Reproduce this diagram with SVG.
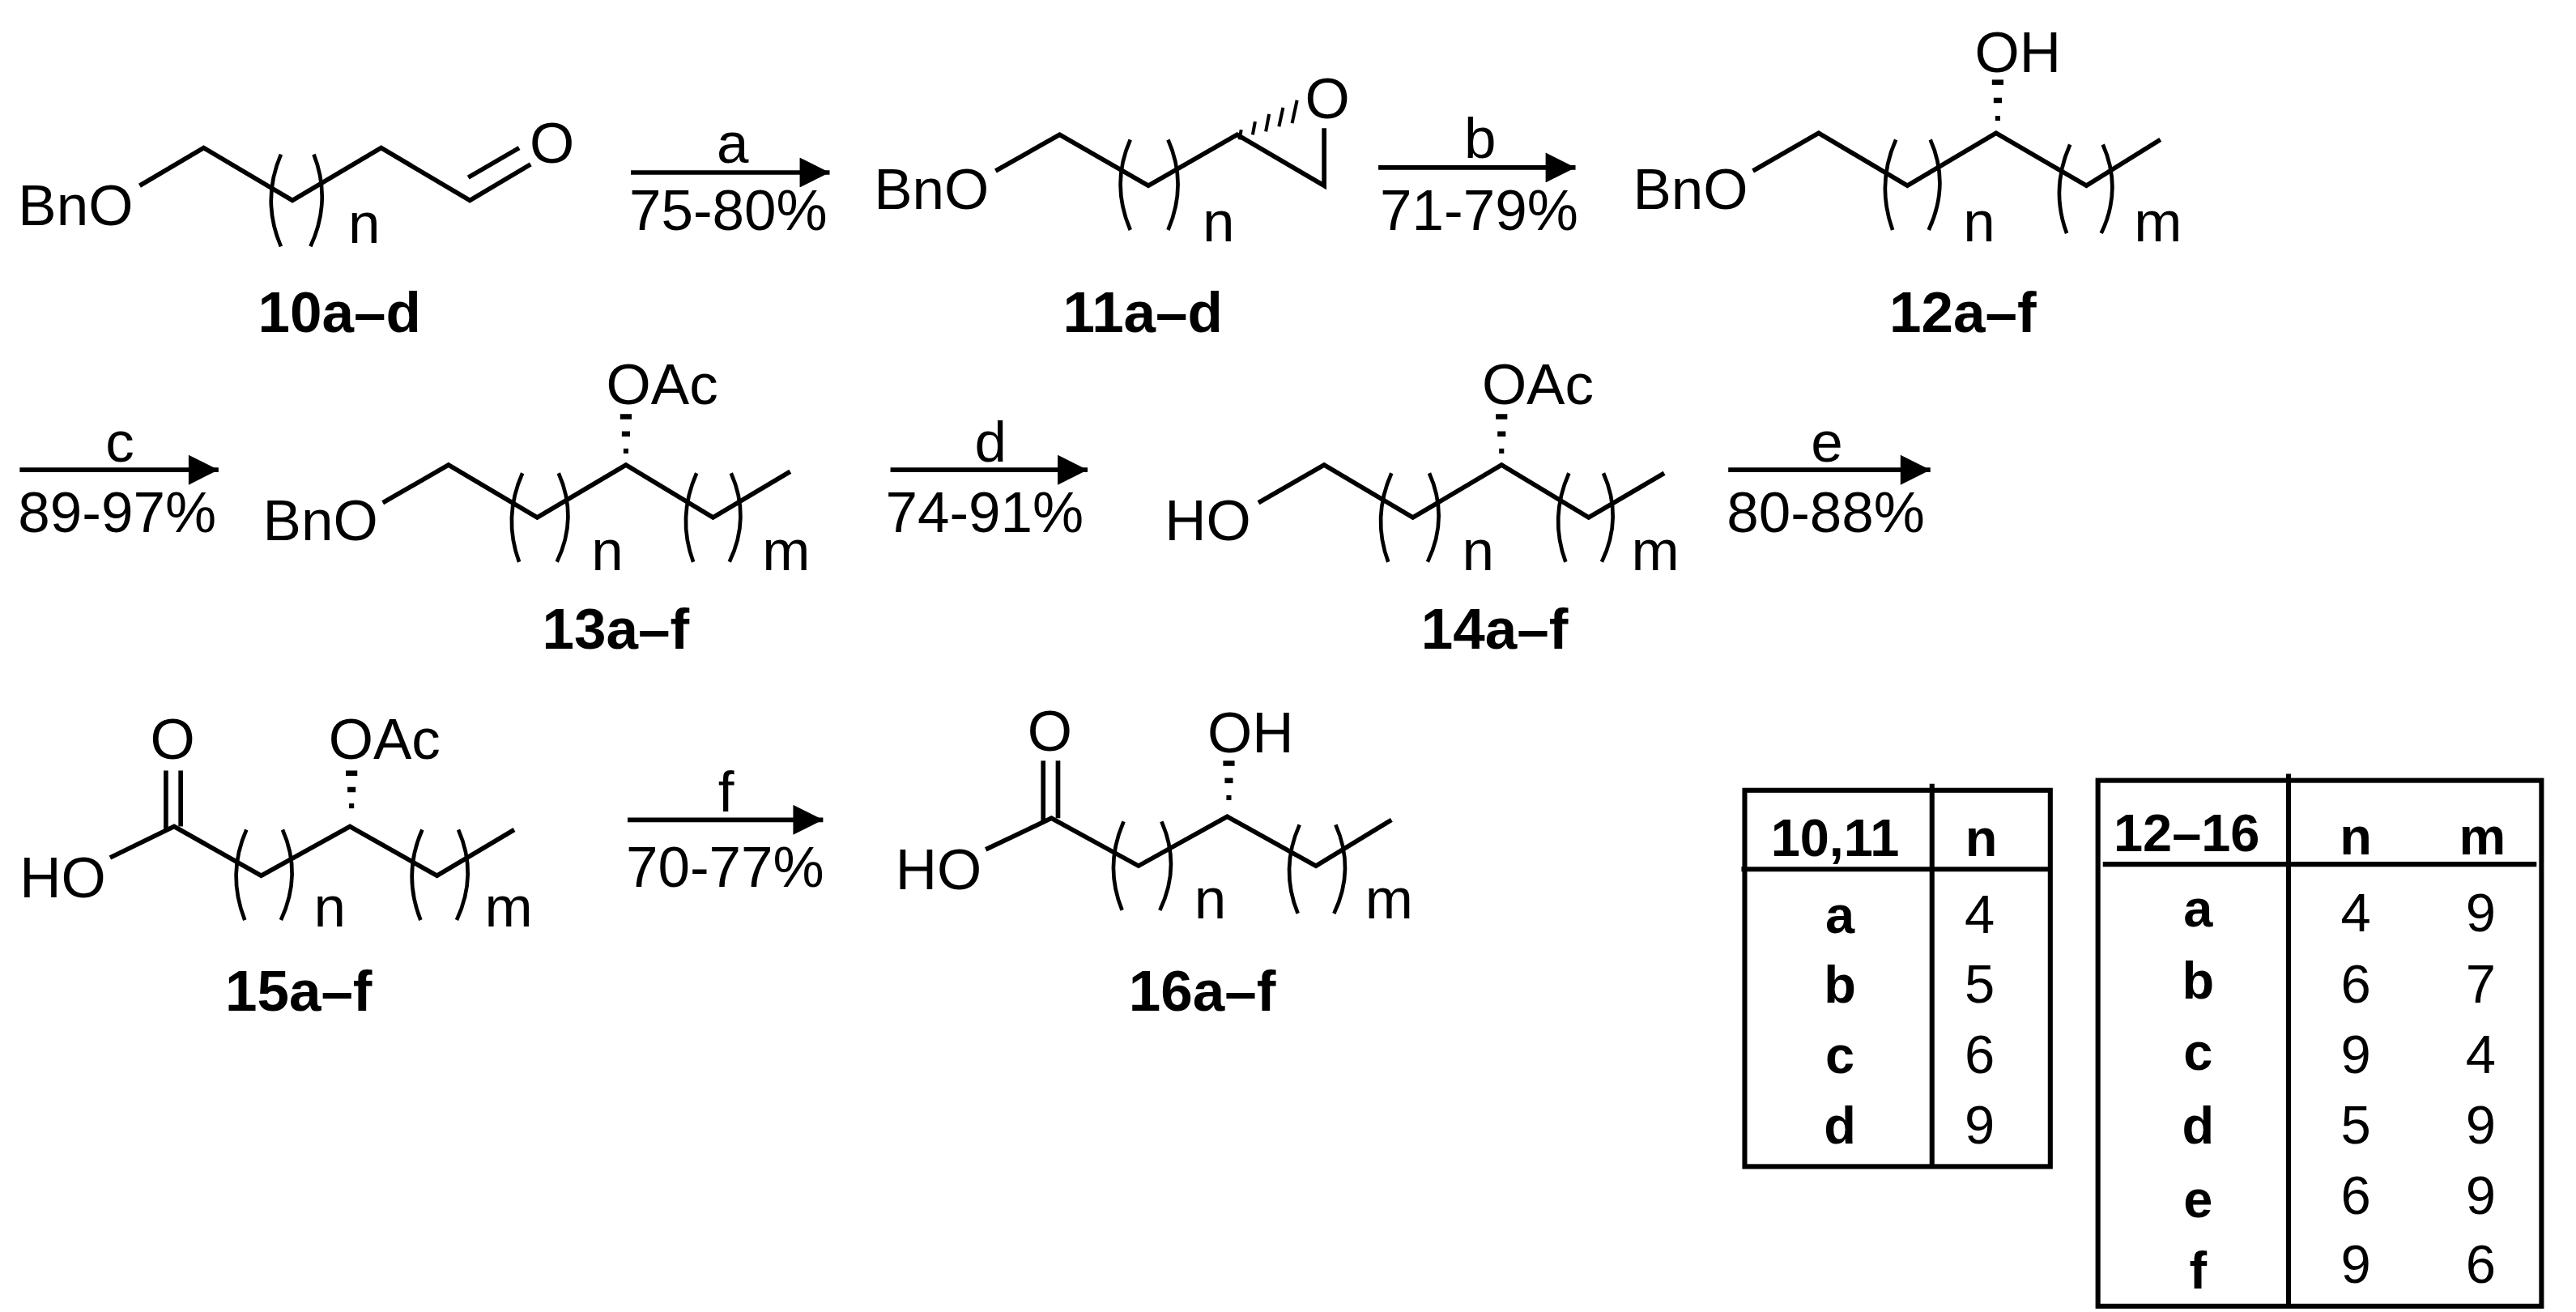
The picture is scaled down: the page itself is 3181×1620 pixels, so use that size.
<svg xmlns="http://www.w3.org/2000/svg" width="3181" height="1620" viewBox="0 0 3181 1620">
<style>
.b{fill:none;stroke:#000;stroke-width:2.8;stroke-linejoin:miter;stroke-linecap:butt}
.p{fill:none;stroke:#000;stroke-width:2.3}
.t{font-family:"Liberation Sans",Arial,sans-serif;font-size:35px;fill:#000}
.s{font-family:"Liberation Sans",Arial,sans-serif;font-size:35px;fill:#000}
.l{font-family:"Liberation Sans",Arial,sans-serif;font-size:35px;font-weight:bold;fill:#000}
.tb{font-family:"Liberation Sans",Arial,sans-serif;font-size:32px;font-weight:bold;fill:#000;text-anchor:middle}
.tn{font-family:"Liberation Sans",Arial,sans-serif;font-size:33px;fill:#000;text-anchor:middle}
.g{fill:none;stroke:#000;stroke-width:3}
.m{text-anchor:middle}
</style>
<defs>
<marker id="ah" viewBox="0 0 10 10" refX="10" refY="5" markerWidth="7" markerHeight="6.5" markerUnits="strokeWidth" orient="auto"><path d="M0,0 L10,5 L0,10 z" fill="#000"/></marker>
</defs>
<rect width="3181" height="1620" fill="#fff"/>
<g transform="scale(2.0287)">
<g id="connectors">
<line class="b" x1="384" y1="105" x2="505" y2="105" stroke-width="3" marker-end="url(#ah)"/>
<line class="b" x1="839" y1="102" x2="959" y2="102" stroke-width="3" marker-end="url(#ah)"/>
<line class="b" x1="12" y1="286" x2="133" y2="286" stroke-width="3" marker-end="url(#ah)"/>
<line class="b" x1="542" y1="286" x2="662" y2="286" stroke-width="3" marker-end="url(#ah)"/>
<line class="b" x1="1052" y1="286" x2="1175" y2="286" stroke-width="3" marker-end="url(#ah)"/>
<line class="b" x1="382" y1="499" x2="501" y2="499" stroke-width="3" marker-end="url(#ah)"/>
<text class="t m" x="446" y="99">a</text>
<text class="t" x="383" y="140">75-80%</text>
<text class="t m" x="901" y="96">b</text>
<text class="t" x="840" y="140">71-79%</text>
<text class="t m" x="73" y="281">c</text>
<text class="t" x="11" y="324">89-97%</text>
<text class="t m" x="603" y="281">d</text>
<text class="t" x="539" y="324">74-91%</text>
<text class="t m" x="1112" y="281">e</text>
<text class="t" x="1051" y="324">80-88%</text>
<text class="t m" x="442" y="494">f</text>
<text class="t" x="381" y="540">70-77%</text>
</g>
<g id="c10">
<text class="t" x="11" y="137">BnO</text>
<polyline class="b" points="85,113 124,90 178,122 232,90 286,122 323,100"/>
<line class="b" x1="285" y1="108" x2="316" y2="90"/>
<text class="t m" x="336" y="99">O</text>
<path class="p" d="M171,94 Q159,122 171,150"/>
<path class="p" d="M191,94 Q202,122 189,150"/>
<text class="s" x="212" y="148">n</text>
<text class="l" x="157" y="202">10a–d</text>
</g>
<g id="c11">
<text class="t" x="532" y="127">BnO</text>
<polyline class="b" points="606,104 645,82 699,113 753,82 806,113 806,78"/>
<g stroke="#000" stroke-width="2">
<line x1="755.5" y1="79" x2="754.5" y2="85"/>
<line x1="764" y1="74" x2="762.5" y2="82"/>
<line x1="772.5" y1="69.5" x2="770.5" y2="80"/>
<line x1="781" y1="65.5" x2="778.5" y2="77"/>
<line x1="789.5" y1="61" x2="786.5" y2="75"/>
</g>
<text class="t m" x="808" y="72">O</text>
<path class="p" d="M688,85 Q676,112 688,140"/>
<path class="p" d="M711,85 Q723,112 711,140"/>
<text class="s" x="732" y="147">n</text>
<text class="l" x="647" y="202">11a–d</text>
</g>
<g id="c12">
<text class="t" x="994" y="127">BnO</text>
<polyline class="b" points="1067,104 1107,81 1161,113 1215,81 1270,113 1315,85"/>
<rect x="1212.5" y="48.5" width="7" height="3.2"/>
<rect x="1213.5" y="59.5" width="5" height="3.2"/>
<rect x="1214.5" y="70.5" width="3" height="3"/>
<text class="t" x="1202" y="44">OH</text>
<path class="p" d="M1154,85 Q1142,112 1152,140"/>
<path class="p" d="M1175,85 Q1187,112 1174,140"/>
<path class="p" d="M1260,88 Q1248,115 1258,142"/>
<path class="p" d="M1280,88 Q1292,115 1279,142"/>
<text class="s" x="1195" y="147">n</text>
<text class="s" x="1299" y="147">m</text>
<text class="l" x="1150" y="202">12a–f</text>
</g>
<g id="c13">
<text class="t" x="160" y="329">BnO</text>
<polyline class="b" points="233,306 273,283 327,315 381,283 434,315 481,287"/>
<rect x="377.5" y="252" width="7" height="3.2"/>
<rect x="378.5" y="262.5" width="5" height="3.2"/>
<rect x="379.5" y="273" width="3" height="3"/>
<text class="t" x="369" y="246">OAc</text>
<path class="p" d="M318,288 Q306,315 316,342"/>
<path class="p" d="M340,288 Q352,315 339,342"/>
<path class="p" d="M424,288 Q412,315 422,342"/>
<path class="p" d="M445,288 Q457,315 444,342"/>
<text class="s" x="360" y="347">n</text>
<text class="s" x="464" y="347">m</text>
<text class="l" x="330" y="395">13a–f</text>
</g>
<g id="c14">
<text class="t" x="709" y="329">HO</text>
<polyline class="b" points="766,306 806,283 860,315 914,283 967,315 1013,288"/>
<rect x="910.5" y="252" width="7" height="3.2"/>
<rect x="911.5" y="262.5" width="5" height="3.2"/>
<rect x="912.5" y="273" width="3" height="3"/>
<text class="t" x="902" y="246">OAc</text>
<path class="p" d="M847,288 Q835,315 845,342"/>
<path class="p" d="M870,288 Q882,315 869,342"/>
<path class="p" d="M955,288 Q943,315 953,342"/>
<path class="p" d="M976,288 Q988,315 975,342"/>
<text class="s" x="890" y="347">n</text>
<text class="s" x="993" y="347">m</text>
<text class="l" x="865" y="395">14a–f</text>
</g>
<g id="c15">
<text class="t" x="12" y="546">HO</text>
<polyline class="b" points="67,522 106,503 159,533 213,503 266,533 313,505"/>
<line class="b" x1="101" y1="505" x2="101" y2="469"/>
<line class="b" x1="110" y1="503" x2="110" y2="469"/>
<text class="t m" x="105" y="462">O</text>
<rect x="210.5" y="469" width="7" height="3.2"/>
<rect x="211.5" y="479" width="5" height="3.2"/>
<rect x="212.5" y="489" width="3" height="3"/>
<text class="t" x="200" y="462">OAc</text>
<path class="p" d="M150,505 Q138,532 149,560"/>
<path class="p" d="M172,505 Q184,532 171,560"/>
<path class="p" d="M257,505 Q245,532 256,560"/>
<path class="p" d="M279,505 Q291,532 278,560"/>
<text class="s" x="191" y="564">n</text>
<text class="s" x="295" y="564">m</text>
<text class="l" x="137" y="615">15a–f</text>
</g>
<g id="c16">
<text class="t" x="545" y="541">HO</text>
<polyline class="b" points="600,517 640,498 693,527 747,497 801,527 847,499"/>
<line class="b" x1="635" y1="500" x2="635" y2="463"/>
<line class="b" x1="644" y1="498" x2="644" y2="463"/>
<text class="t m" x="639" y="457">O</text>
<rect x="744.5" y="463" width="7" height="3.2"/>
<rect x="745.5" y="473.5" width="5" height="3.2"/>
<rect x="746.5" y="484" width="3" height="3"/>
<text class="t" x="735" y="458">OH</text>
<path class="p" d="M684,500 Q672,527 683,554"/>
<path class="p" d="M707,500 Q719,527 706,554"/>
<path class="p" d="M791,502 Q779,529 790,556"/>
<path class="p" d="M813,502 Q825,529 812,556"/>
<text class="s" x="727" y="559">n</text>
<text class="s" x="831" y="559">m</text>
<text class="l" x="687" y="615">16a–f</text>
</g>
<g id="table1">
<rect class="g" x="1062" y="481" width="186" height="229"/>
<line class="g" x1="1176" y1="477" x2="1176" y2="710"/>
<line class="g" x1="1060" y1="529" x2="1248" y2="529"/>
<text class="tb" x="1117" y="521">10,11</text>
<text class="tb" x="1206" y="521">n</text>
<text class="tb" x="1120" y="568">a</text><text class="tn" x="1205" y="568">4</text>
<text class="tb" x="1120" y="610">b</text><text class="tn" x="1205" y="610">5</text>
<text class="tb" x="1120" y="653">c</text><text class="tn" x="1205" y="653">6</text>
<text class="tb" x="1120" y="696">d</text><text class="tn" x="1205" y="696">9</text>
</g>
<g id="table2">
<rect class="g" x="1277" y="475" width="270" height="320"/>
<line class="g" x1="1393" y1="471" x2="1393" y2="795"/>
<line class="g" x1="1280" y1="526" x2="1544" y2="526"/>
<text class="tb" x="1331" y="518">12–16</text>
<text class="tb" x="1434" y="520">n</text>
<text class="tb" x="1511" y="520">m</text>
<text class="tb" x="1338" y="564">a</text><text class="tn" x="1434" y="567">4</text><text class="tn" x="1510" y="567">9</text>
<text class="tb" x="1338" y="608">b</text><text class="tn" x="1434" y="610">6</text><text class="tn" x="1510" y="610">7</text>
<text class="tb" x="1338" y="651">c</text><text class="tn" x="1434" y="653">9</text><text class="tn" x="1510" y="653">4</text>
<text class="tb" x="1338" y="696">d</text><text class="tn" x="1434" y="696">5</text><text class="tn" x="1510" y="696">9</text>
<text class="tb" x="1338" y="741">e</text><text class="tn" x="1434" y="739">6</text><text class="tn" x="1510" y="739">9</text>
<text class="tb" x="1338" y="784">f</text><text class="tn" x="1434" y="781">9</text><text class="tn" x="1510" y="781">6</text>
</g>
</g>
</svg>
